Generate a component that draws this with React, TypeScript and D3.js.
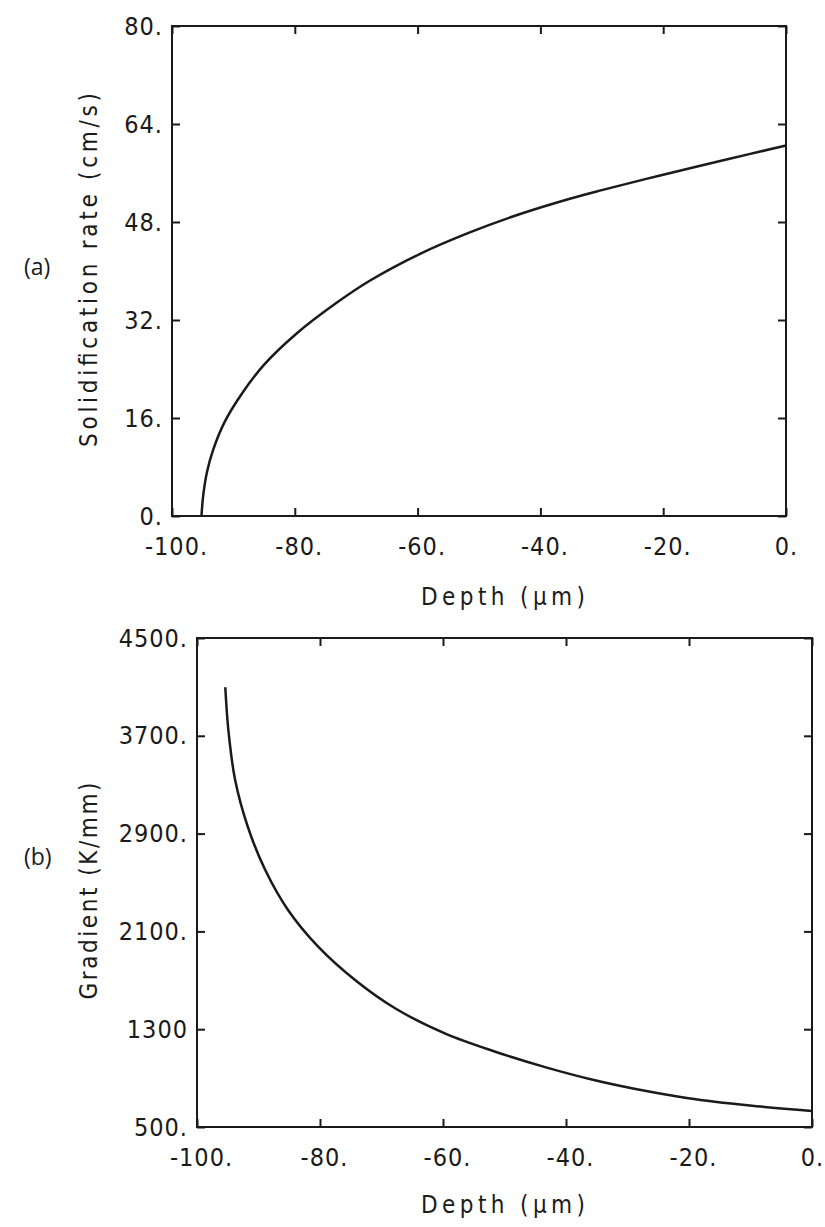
import { useEffect, useRef } from 'react'
import * as d3 from 'd3'

// shared depth axis
const depthTicks = [-100, -80, -60, -40, -20, 0]
const depthTickLabels = ['-100.', '-80.', '-60.', '-40.', '-20.', '0.']

// (a) solidification rate
const rateTicks = [0, 16, 32, 48, 64, 80]
const rateTickLabels = ['0.', '16.', '32.', '48.', '64.', '80.']
const rateDepth = [-95.2, -94.9, -94.3, -93.3, -91.4, -88.6, -85.1, -79.7, -73.2, -67.8, -59.6, -51.5, -43.3, -35.2, -30.0, -20.5, -9.7, 0]
const rateValues = [0, 3.5, 7.2, 10.8, 15.4, 20.0, 24.6, 29.8, 34.8, 38.4, 42.8, 46.3, 49.3, 51.8, 53.2, 55.6, 58.2, 60.5]

// (b) temperature gradient
const gradTicks = [500, 1300, 2100, 2900, 3700, 4500]
const gradTickLabels = ['500.', '1300', '2100.', '2900.', '3700.', '4500.']
const gradDepth = [-95.4, -94.9, -93.8, -91.7, -88.9, -85.2, -80.3, -74.3, -67.8, -59.7, -51.5, -43.4, -35.3, -29.1, -20.1, -10.1, 0]
const gradValues = [4097, 3747, 3338, 2950, 2602, 2275, 1975, 1702, 1471, 1266, 1116, 990, 882, 815, 736, 676, 631]

const FONT = '"DejaVu Sans Condensed", "DejaVu Sans", sans-serif'
const INK = '#1a1a1a'

export default function App() {
  const svgRef = useRef(null)

  useEffect(() => {
    const svg = d3.select(svgRef.current)
    svg.selectAll('*').remove()

    const drawPanel = (opts) => {
      const { box, xs, ys, yTicks, yLabels, yDomain, yTitle, yTitleLen, yTitleY, tag, tagY, xTitleY } = opts

      const x = d3.scaleLinear().domain([-100, 0]).range([box.left, box.right])
      const y = d3.scaleLinear().domain(yDomain).range([box.bottom, box.top])

      const g = svg.append('g')

      const styleAxis = (sel) => {
        sel.select('.domain').remove()
        sel.selectAll('line').attr('stroke', INK).attr('stroke-width', 2)
        sel.selectAll('text')
          .attr('fill', INK)
          .style('font-family', FONT)
          .style('font-size', '25px')
          .style('letter-spacing', '1px')
      }

      // bottom
      g.append('g')
        .attr('transform', `translate(0,${box.bottom})`)
        .call(d3.axisBottom(x).tickValues(depthTicks)
          .tickFormat((d, i) => depthTickLabels[i])
          .tickSizeInner(-8).tickSizeOuter(0).tickPadding(21))
        .call(styleAxis)
        .selectAll('text').attr('dx', (d) => (d === 0 ? 0 : 4))

      // top
      g.append('g')
        .attr('transform', `translate(0,${box.top})`)
        .call(d3.axisTop(x).tickValues(depthTicks).tickFormat(() => '')
          .tickSizeInner(-8).tickSizeOuter(0))
        .call(styleAxis)

      // left
      g.append('g')
        .attr('transform', `translate(${box.left},0)`)
        .call(d3.axisLeft(y).tickValues(yTicks)
          .tickFormat((d, i) => yLabels[i])
          .tickSizeInner(-8).tickSizeOuter(0).tickPadding(9))
        .call(styleAxis)

      // right
      g.append('g')
        .attr('transform', `translate(${box.right},0)`)
        .call(d3.axisRight(y).tickValues(yTicks).tickFormat(() => '')
          .tickSizeInner(-8).tickSizeOuter(0))
        .call(styleAxis)

      g.append('rect')
        .attr('x', box.left)
        .attr('y', box.top)
        .attr('width', box.right - box.left)
        .attr('height', box.bottom - box.top)
        .attr('fill', 'none')
        .attr('stroke', INK)
        .attr('stroke-width', 2)

      const line = d3.line()
        .x(d => x(d[0]))
        .y(d => y(d[1]))
        .curve(d3.curveCatmullRom.alpha(0.5))

      g.append('path')
        .datum(xs.map((d, i) => [d, ys[i]]))
        .attr('d', line)
        .attr('fill', 'none')
        .attr('stroke', INK)
        .attr('stroke-width', 2.5)
        .attr('stroke-linejoin', 'round')

      // axis titles
      g.append('text')
        .attr('x', 503)
        .attr('y', xTitleY)
        .attr('text-anchor', 'middle')
        .attr('textLength', 164)
        .attr('lengthAdjust', 'spacing')
        .attr('fill', INK)
        .style('font-family', FONT)
        .style('font-size', '24px')
        .text('Depth (μm)')

      g.append('text')
        .attr('transform', `translate(97,${yTitleY}) rotate(-90)`)
        .attr('text-anchor', 'middle')
        .attr('textLength', yTitleLen)
        .attr('lengthAdjust', 'spacing')
        .attr('fill', INK)
        .style('font-family', FONT)
        .style('font-size', '24px')
        .text(yTitle)

      g.append('text')
        .attr('x', 24)
        .attr('y', tagY)
        .attr('fill', INK)
        .style('font-family', '"Open Sans", sans-serif')
        .style('font-size', '23px')
        .text(tag)
    }

    drawPanel({
      box: { left: 172, right: 786, top: 26, bottom: 516 },
      xs: rateDepth,
      ys: rateValues,
      yTicks: rateTicks,
      yLabels: rateTickLabels,
      yDomain: [0, 80],
      yTitle: 'Solidification rate (cm/s)',
      yTitleLen: 354,
      yTitleY: 270,
      tag: '(a)',
      tagY: 275,
      xTitleY: 605
    })

    drawPanel({
      box: { left: 197, right: 812, top: 638, bottom: 1127 },
      xs: gradDepth,
      ys: gradValues,
      yTicks: gradTicks,
      yLabels: gradTickLabels,
      yDomain: [500, 4500],
      yTitle: 'Gradient (K/mm)',
      yTitleLen: 217,
      yTitleY: 891,
      tag: '(b)',
      tagY: 865,
      xTitleY: 1213
    })
  }, [])

  return (
    <svg
      ref={svgRef}
      width={825}
      height={1227}
      style={{ position: 'absolute', left: 0, top: 0, background: '#fff' }}
    />
  )
}
